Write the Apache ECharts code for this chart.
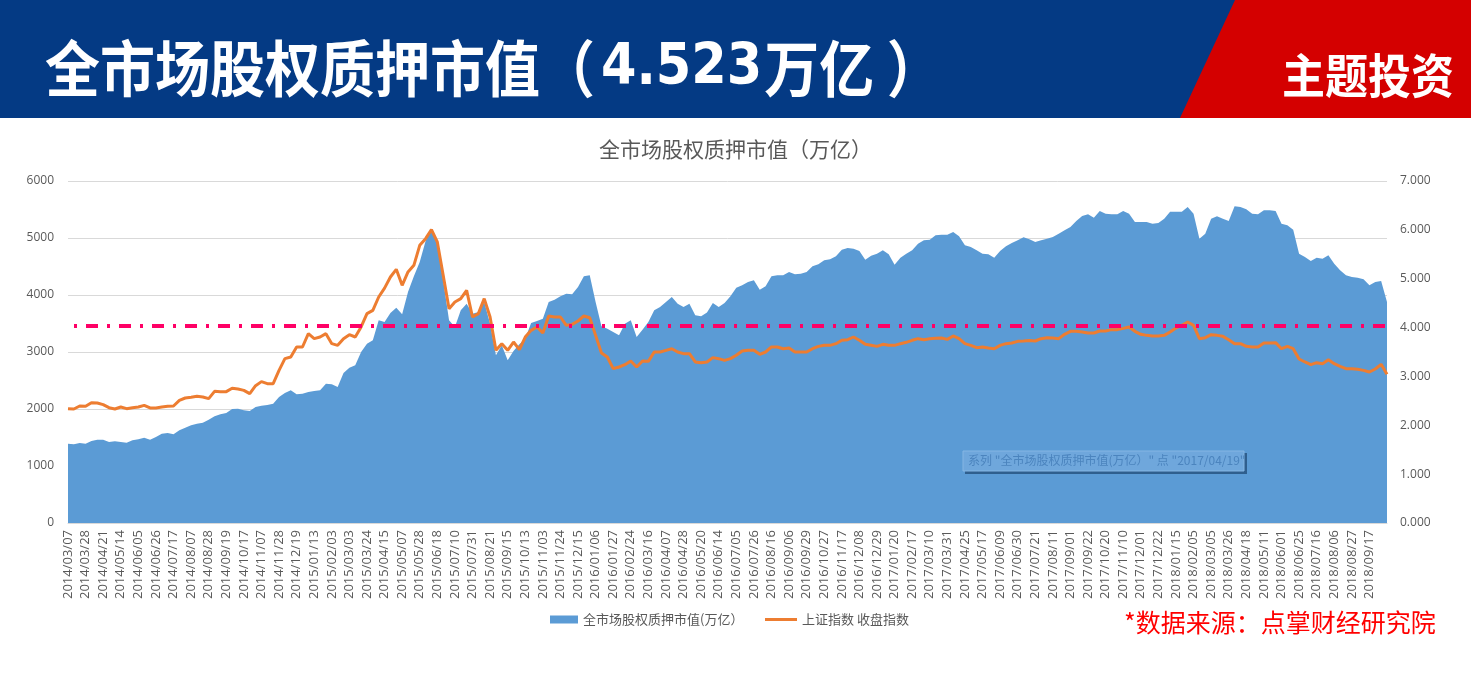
<!DOCTYPE html>
<html><head><meta charset="utf-8">
<script src="https://cdn.jsdelivr.net/npm/echarts@6/dist/echarts.min.js"></script>
<style>html,body{margin:0;padding:0;background:#fff}#c{width:1471px;height:680px}</style>
</head><body><div id="c"></div>
<script>
// Tick labels on the category axis (one every 15 trading days)
const dateLabels = [
 '2014/03/07','2014/03/28','2014/04/21','2014/05/14','2014/06/05','2014/06/26','2014/07/17','2014/08/07','2014/08/28','2014/09/19','2014/10/17','2014/11/07','2014/11/28','2014/12/19',
 '2015/01/13','2015/02/03','2015/03/03','2015/03/24','2015/04/15','2015/05/07','2015/05/28','2015/06/18','2015/07/10','2015/07/31','2015/08/21','2015/09/15','2015/10/13','2015/11/03','2015/11/24','2015/12/15',
 '2016/01/06','2016/01/27','2016/02/24','2016/03/16','2016/04/07','2016/04/28','2016/05/20','2016/06/14','2016/07/05','2016/07/26','2016/08/16','2016/09/06','2016/09/29','2016/10/27','2016/11/17','2016/12/08','2016/12/29',
 '2017/01/20','2017/02/17','2017/03/10','2017/03/31','2017/04/25','2017/05/17','2017/06/09','2017/06/30','2017/07/21','2017/08/11','2017/09/01','2017/09/22','2017/10/20','2017/11/10','2017/12/01','2017/12/22',
 '2018/01/15','2018/02/05','2018/03/05','2018/03/26','2018/04/18','2018/05/11','2018/06/01','2018/06/25','2018/07/16','2018/08/06','2018/08/27','2018/09/17'
];
const labelEvery = 15;   // trading days between tick labels
const sampleStep = 5;    // trading days between read values

// 全市场股权质押市值 (万亿), read every 5 trading days
const pledgeValue = [
 1.624,1.610,1.637,1.624,1.678,1.706,1.706,1.658,1.672,1.658,
 1.644,1.692,1.712,1.747,1.706,1.760,1.829,1.842,1.815,1.897,
 1.951,1.999,2.033,2.054,2.115,2.183,2.224,2.251,2.333,2.340,
 2.306,2.292,2.374,2.402,2.415,2.443,2.579,2.661,2.715,2.634,
 2.647,2.681,2.702,2.715,2.852,2.838,2.784,3.070,3.179,3.227,
 3.500,3.671,3.739,4.148,4.114,4.300,4.407,4.271,4.728,5.049,
 5.342,5.772,6.024,5.683,4.967,4.148,4.012,4.353,4.489,4.285,
 4.319,4.523,4.080,3.432,3.637,3.329,3.521,3.657,3.773,4.094,
 4.135,4.182,4.523,4.571,4.639,4.694,4.680,4.830,5.049,5.069,
 4.523,4.025,3.978,3.909,3.841,4.080,4.148,3.807,3.957,4.114,
 4.353,4.421,4.523,4.626,4.489,4.421,4.489,4.251,4.230,4.310,
 4.503,4.421,4.503,4.639,4.817,4.865,4.933,4.967,4.776,4.844,
 5.049,5.069,5.069,5.138,5.090,5.103,5.138,5.254,5.294,5.376,
 5.397,5.458,5.595,5.629,5.615,5.567,5.390,5.472,5.513,5.581,
 5.499,5.288,5.431,5.513,5.581,5.717,5.786,5.799,5.888,5.902,
 5.902,5.956,5.868,5.683,5.649,5.581,5.513,5.499,5.431,5.567,
 5.663,5.731,5.786,5.847,5.810,5.752,5.786,5.820,5.854,5.922,
 5.990,6.059,6.181,6.284,6.318,6.250,6.386,6.331,6.318,6.318,
 6.386,6.331,6.161,6.161,6.161,6.127,6.140,6.229,6.372,6.372,
 6.372,6.468,6.331,5.820,5.922,6.229,6.277,6.229,6.181,6.482,
 6.468,6.420,6.331,6.318,6.400,6.400,6.386,6.127,6.093,6.004,
 5.513,5.445,5.363,5.431,5.410,5.479,5.308,5.172,5.069,5.035,
 5.022,4.987,4.865,4.933,4.953,4.523
];

// 上证指数 收盘指数, read every 5 trading days
const shIndex = [
 2006,2000,2053,2047,2111,2105,2076,2023,2000,2035,
 2006,2023,2035,2064,2018,2018,2035,2047,2053,2152,
 2193,2205,2222,2211,2181,2310,2304,2304,2363,2351,
 2327,2269,2409,2480,2444,2444,2678,2883,2912,3088,
 3088,3322,3234,3263,3322,3146,3117,3234,3304,3263,
 3439,3673,3731,3965,4120,4316,4450,4170,4404,4520,
 4871,4988,5146,4930,4345,3760,3877,3936,4082,3614,
 3673,3936,3614,3029,3146,3029,3175,3041,3263,3380,
 3439,3333,3632,3614,3614,3468,3485,3544,3632,3602,
 3292,2982,2912,2708,2737,2778,2842,2737,2842,2836,
 3000,3000,3029,3058,3000,2971,2971,2825,2810,2825,
 2901,2883,2854,2883,2942,3018,3029,3029,2959,3000,
 3088,3088,3058,3070,3000,3000,3000,3058,3099,3117,
 3117,3146,3205,3216,3263,3205,3135,3117,3099,3135,
 3117,3117,3146,3170,3205,3234,3216,3234,3240,3246,
 3222,3281,3234,3146,3117,3076,3088,3070,3058,3117,
 3146,3158,3187,3193,3200,3193,3234,3251,3246,3234,
 3310,3363,3363,3351,3333,3333,3368,3368,3392,3392,
 3415,3439,3363,3310,3292,3281,3281,3292,3351,3421,
 3468,3526,3468,3234,3251,3304,3292,3275,3216,3146,
 3146,3099,3088,3088,3158,3158,3164,3058,3099,3058,
 2877,2825,2778,2813,2795,2865,2795,2749,2708,2708,
 2696,2678,2649,2702,2784,2608
];

const warnLevel = 3456; // dash-dot reference line (left axis)

const areaName = '全市场股权质押市值(万亿）';
const lineName = '上证指数 收盘指数';

const CJK = '"Noto Sans CJK SC", sans-serif';
const LAT = '"Open Sans", "Noto Sans CJK SC", sans-serif';

const chart = echarts.init(document.getElementById('c'), null, {renderer: 'canvas'});
const lastX = (pledgeValue.length - 1) * sampleStep;

chart.setOption({
  animation: false,
  backgroundColor: '#ffffff',
  title: {
    text: '全市场股权质押市值（万亿）',
    left: 'center', top: 134,
    textStyle: {fontFamily: CJK, fontSize: 21, fontWeight: 'normal', color: '#595959'}
  },
  legend: [
    {
      left: 550, top: 613, padding: 0,
      itemWidth: 28, itemHeight: 8,
      textStyle: {fontFamily: CJK, fontSize: 13, color: '#595959'},
      data: [{name: areaName, icon: 'rect'}]
    },
    {
      left: 765, top: 613, padding: 0,
      itemWidth: 32, itemHeight: 3,
      textStyle: {fontFamily: CJK, fontSize: 13, color: '#595959'},
      data: [{name: lineName, icon: 'rect'}]
    }
  ],
  grid: {left: 68, right: 84, top: 181, bottom: 157, containLabel: false},
  xAxis: {
    type: 'value', min: 0, max: lastX, interval: labelEvery,
    axisLine: {show: true, lineStyle: {color: '#D9D9D9'}},
    axisTick: {show: false},
    splitLine: {show: false},
    axisLabel: {
      rotate: 90, margin: 7, fontFamily: LAT, fontSize: 13, color: '#595959',
      formatter: v => (v % labelEvery === 0 && dateLabels[v / labelEvery]) || ''
    }
  },
  yAxis: [
    {
      type: 'value', position: 'left', min: 0, max: 6000, interval: 1000,
      axisLine: {show: false}, axisTick: {show: false},
      splitLine: {show: true, lineStyle: {color: '#D9D9D9', width: 1}},
      axisLabel: {margin: 14, fontFamily: LAT, fontSize: 12, color: '#595959',
        formatter: v => String(v)}
    },
    {
      type: 'value', position: 'right', min: 0, max: 7, interval: 1,
      axisLine: {show: false}, axisTick: {show: false},
      splitLine: {show: false},
      axisLabel: {margin: 13, fontFamily: LAT, fontSize: 12, color: '#595959',
        formatter: v => v.toFixed(3)}
    }
  ],
  series: [
    {
      name: areaName, type: 'line', yAxisIndex: 1,
      data: pledgeValue.map((v, i) => [i * sampleStep, v]),
      showSymbol: false, symbol: 'none',
      lineStyle: {width: 0, color: '#5B9BD5'},
      itemStyle: {color: '#5B9BD5'},
      areaStyle: {color: '#5B9BD5', opacity: 1},
      z: 1
    },
    {
      name: lineName, type: 'line', yAxisIndex: 0,
      data: shIndex.map((v, i) => [i * sampleStep, v]),
      showSymbol: false, symbol: 'none',
      lineStyle: {width: 3, color: '#ED7D31'},
      itemStyle: {color: '#ED7D31'},
      z: 3,
      markLine: {
        silent: true, symbol: ['none', 'none'],
        label: {show: false},
        lineStyle: {color: '#FF0066', width: 4, type: [12, 9, 3, 9], dashOffset: 15},
        data: [{yAxis: warnLevel}]
      }
    }
  ],
  graphic: [
    {type: 'rect', left: 0, top: 0, shape: {width: 1471, height: 118}, style: {fill: '#043A84'}, z: 100},
    {type: 'polygon', shape: {points: [[1235, 0], [1471, 0], [1471, 118], [1180, 118]]}, style: {fill: '#D40000'}, z: 101},
    {type: 'text', x: 45, y: 38, scaleY: 1.12, z: 102,
      style: {
        text: '{a|全市场股权质押市值（}{b|4.523}{a|万亿 ）}',
        fill: '#ffffff',
        rich: {
          a: {fill: '#ffffff', fontFamily: '"Noto Sans CJK SC"', fontWeight: 'bold', fontSize: 55},
          b: {fill: '#ffffff', fontFamily: '"DejaVu Sans"', fontWeight: 'bold', fontSize: 51, padding: [0, 2, 0, 6]}
        }
      }},
    {type: 'text', x: 1282, y: 52, scaleY: 1.08, z: 102,
      style: {text: '主题投资', fill: '#ffffff', font: 'bold 43px ' + CJK}},
    {type: 'text', x: 1124, y: 610, z: 102,
      style: {text: '*数据来源：点掌财经研究院', fill: '#FF0000', font: '25px ' + CJK}},
    {type: 'rect', z: 120, shape: {x: 965, y: 453, width: 282, height: 21}, style: {fill: '#2F5F8E'}},
    {type: 'rect', z: 121, shape: {x: 963, y: 451, width: 281, height: 20}, style: {fill: '#6FA7DC', stroke: '#86B6E3', lineWidth: 1}},
    {type: 'text', z: 122, x: 968, y: 454,
      style: {text: '系列 "全市场股权质押市值(万亿）" 点 "2017/04/19"', fill: '#4B84BE', font: '12px ' + CJK}}
  ]
});
</script>
</body></html>
